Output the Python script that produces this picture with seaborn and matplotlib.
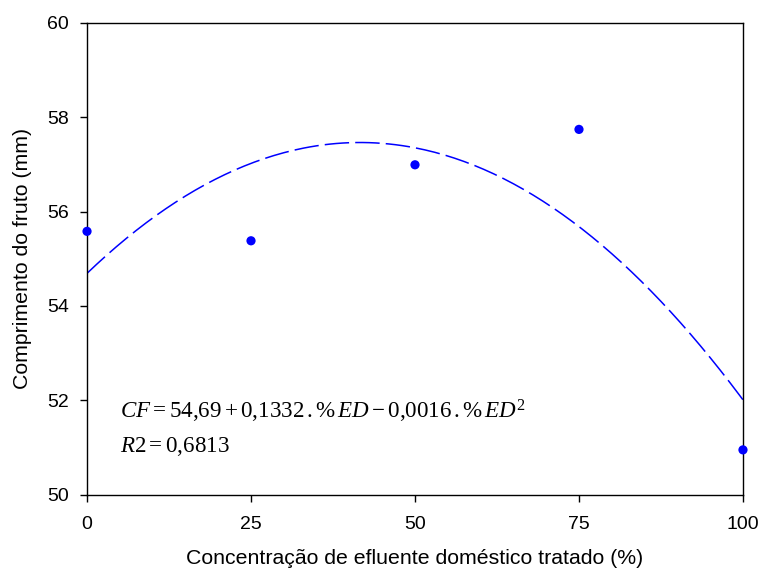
import numpy as np
import pandas as pd
import matplotlib
matplotlib.use("Agg")
import matplotlib.pyplot as plt
import seaborn as sns

# Data
concentration = [0, 25, 50, 75, 100]
fruit_length = [55.58, 55.38, 56.99, 57.74, 50.95]
coef = [54.69, 0.1332, -0.0016]
x_ticks = [0, 25, 50, 75, 100]
y_ticks = [50, 52, 54, 56, 58, 60]

sns.set_theme(style="ticks")
plt.rcParams['font.family'] = ['Liberation Sans', 'DejaVu Sans']
plt.rcParams['text.color'] = 'black'
plt.rcParams['axes.labelcolor'] = 'black'
plt.rcParams['mathtext.fontset'] = 'custom'
plt.rcParams['mathtext.rm'] = 'Liberation Serif'
plt.rcParams['mathtext.it'] = 'Liberation Serif:italic'

fig = plt.figure(figsize=(7.6, 5.71), dpi=100)
ax = fig.add_axes([0.1145, 0.1336, 0.8631, 0.8266])

xs = np.linspace(0, 100, 201)
curve = pd.DataFrame({"x": xs, "y": coef[0] + coef[1] * xs + coef[2] * xs ** 2})
sns.lineplot(data=curve, x="x", y="y", ax=ax, color="#0000FF", lw=1.1,
             dashes=False)
ax.lines[-1].set_dashes((16, 4))

df = pd.DataFrame({"x": concentration, "y": fruit_length})
sns.scatterplot(data=df, x="x", y="y", ax=ax, color="#0000FF", s=44,
                edgecolor="none", zorder=5, clip_on=False)

ax.set_xlim(0, 100)
ax.set_ylim(50, 60)
ax.set_xticks(x_ticks)
ax.set_yticks(y_ticks)
ax.tick_params(axis="both", direction="out", length=5, width=1, colors="black",
               labelsize=14, pad=8)
ax.tick_params(axis="x", pad=10)
for s in ax.spines.values():
    s.set_color("black")
    s.set_linewidth(1.0)
    s.set_visible(True)

ax.set_xlabel("Concentração de efluente doméstico tratado (%)", fontsize=15.3,
              labelpad=12, color="black")
ax.set_ylabel("Comprimento do fruto (mm)", fontsize=15.3, labelpad=11, color="black")

ax.text(5.0, 51.62, r"$CF = 54{,}69 + 0{,}1332\,.\%\,ED - 0{,}0016\,.\%\,ED^{2}$",
        fontsize=16.6, color="black", ha="left", va="baseline")
ax.text(5.0, 50.90, r"$R2 = 0{,}6813$", fontsize=16.6, color="black",
        ha="left", va="baseline")

fig.savefig("out.png", dpi=100)
